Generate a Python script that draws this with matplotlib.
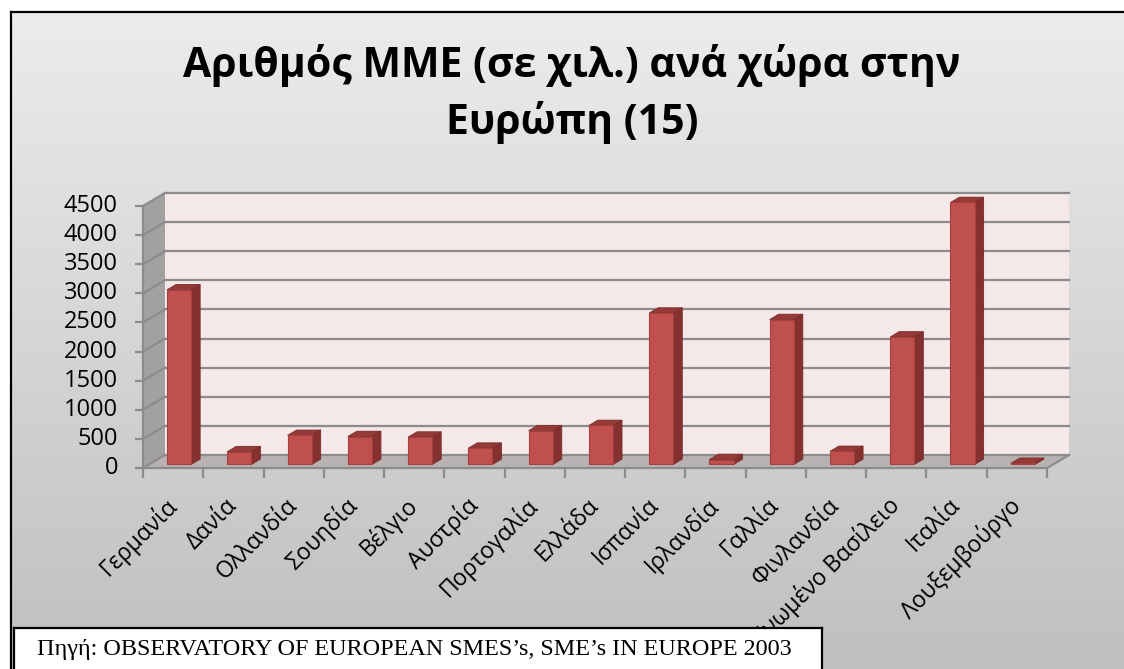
import numpy as np
import matplotlib
matplotlib.use('Agg')
import matplotlib.pyplot as plt
from matplotlib.patches import Polygon
from matplotlib.transforms import offset_copy

# Data (thousands of SMEs per country)
countries = ['Γερμανία', 'Δανία', 'Ολλανδία', 'Σουηδία', 'Βέλγιο', 'Αυστρία',
             'Πορτογαλία', 'Ελλάδα', 'Ισπανία', 'Ιρλανδία', 'Γαλλία', 'Φινλανδία',
             'Ηνωμένο Βασίλειο', 'Ιταλία', 'Λουξεμβούργο']
smes = [3000, 220, 500, 480, 470, 280, 580, 670, 2600, 85, 2490, 225, 2190, 4500, 20]
y_ticks = [0, 500, 1000, 1500, 2000, 2500, 3000, 3500, 4000, 4500]

title_text = 'Αριθμός ΜΜΕ (σε χιλ.) ανά χώρα στην\nΕυρώπη (15)'
source_text = 'Πηγή: OBSERVATORY OF EUROPEAN SMES’s, SME’s IN EUROPE 2003'

W, H = 1124, 669
fig = plt.figure(figsize=(W / 100, H / 100), dpi=100)
fig.patch.set_facecolor('white')

def px_axes(x0, y0, x1, y1):
    return fig.add_axes([x0 / W, 1 - y1 / H, (x1 - x0) / W, (y1 - y0) / H])

# gradient background of the chart area
bg = px_axes(11, 12, W, H)
grad = np.linspace(0.925, 0.75, 256).reshape(-1, 1)
bg.imshow(np.dstack([grad, grad, grad]), aspect='auto', extent=[0, 1, 0, 1],
          interpolation='bilinear')
bg.set_xlim(0, 1)
bg.set_ylim(0, 1)
bg.axis('off')
fig.add_artist(plt.Line2D([10.5 / W, 10.5 / W], [0, 1 - 11.5 / H], color='black', lw=1.6))
fig.add_artist(plt.Line2D([10.5 / W, 1.01], [1 - 11.5 / H, 1 - 11.5 / H], color='black', lw=1.6))

# title
fig.text(572 / W, 1 - 94 / H, title_text, ha='center', va='center',
         fontsize=29.5, fontweight='bold', family=['Open Sans', 'DejaVu Sans'],
         linespacing=1.45)

# main 3D-looking chart, front plane
ax = px_axes(143, 206, 1047, 468)
n = len(countries)
ymax = 4500
ax.set_xlim(0, n)
ax.set_ylim(0, ymax)
ax.axis('off')
ax.set_zorder(2)

ddx = 22 / 904 * n      # depth offset in data units
ddy = 13 / 262 * ymax

def P(x, y, t):
    return (x + t * ddx, y + t * ddy)

grid_c = '#8c8c8c'

# back wall
ax.add_patch(Polygon([P(0, 0, 1), P(n, 0, 1), P(n, ymax, 1), P(0, ymax, 1)],
                     closed=True, facecolor='#f4e8e8', edgecolor='none', clip_on=False, zorder=1))
# left wall
ax.add_patch(Polygon([P(0, 0, 0), P(0, 0, 1), P(0, ymax, 1), P(0, ymax, 0)],
                     closed=True, facecolor='#a3a0a0', edgecolor='none', clip_on=False, zorder=1))
# floor
ax.add_patch(Polygon([P(0, 0, 0), P(n, 0, 0), P(n, 0, 1), P(0, 0, 1)],
                     closed=True, facecolor='#b9b2b2', edgecolor='none', clip_on=False, zorder=1))

for v in y_ticks:
    a, b = P(0, v, 1), P(n, v, 1)
    ax.plot([a[0], b[0]], [a[1], b[1]], color=grid_c, lw=1.6, clip_on=False, zorder=2)
    c = P(0, v, 0)
    ax.plot([c[0], a[0]], [c[1], a[1]], color=grid_c, lw=1.6, clip_on=False, zorder=2)

# axes lines
ax.plot([0, 0], [0, ymax], color=grid_c, lw=1.6, clip_on=False, zorder=3)
a = P(n, 0, 1)
ax.plot([0, n, a[0]], [0, 0, a[1]], color=grid_c, lw=1.6, clip_on=False, zorder=3)
for v in y_ticks:
    ax.plot([0], [v], marker=0, markersize=6, color=grid_c, mew=1.6, clip_on=False, zorder=3)
    ax.text(0, v, str(v), transform=offset_copy(ax.transData, fig, x=-25, y=0, units='dots'),
            ha='right', va='center', fontsize=17, family=['Open Sans', 'DejaVu Sans'])
for i in range(n + 1):
    ax.plot([i], [0], marker=3, markersize=7, color=grid_c, mew=1.6, clip_on=False, zorder=3)

# bars
t0, t1 = 0.27, 0.68
for i, v in enumerate(smes):
    x0, x1 = i + 0.3, i + 0.7
    side = [P(x1, 0, t0), P(x1, 0, t1), P(x1, v, t1), P(x1, v, t0)]
    top = [P(x0, v, t0), P(x1, v, t0), P(x1, v, t1), P(x0, v, t1)]
    front = [P(x0, 0, t0), P(x1, 0, t0), P(x1, v, t0), P(x0, v, t0)]
    ax.add_patch(Polygon(side, closed=True, facecolor='#85312f', edgecolor='#7a2c2a',
                         lw=0.6, clip_on=False, zorder=4))
    ax.add_patch(Polygon(top, closed=True, facecolor='#953a37', edgecolor='#7a2c2a',
                         lw=0.6, clip_on=False, zorder=4))
    ax.add_patch(Polygon(front, closed=True, facecolor='#c0504d', edgecolor='#a3403d',
                         lw=0.8, clip_on=False, zorder=5))

# category labels
for i, name in enumerate(countries):
    ax.text(i + 0.5, 0, name, transform=offset_copy(ax.transData, fig, x=0, y=-34, units='dots'),
            rotation=45, rotation_mode='anchor', ha='right', va='center',
            fontsize=16.5, family=['Open Sans', 'DejaVu Sans'], zorder=3)

# source box
box = px_axes(14, 628, 822, H + 5)
box.set_xlim(0, 1)
box.set_ylim(0, 1)
box.set_zorder(10)
box.set_facecolor('white')
for s in box.spines.values():
    s.set_color('black')
    s.set_linewidth(1.6)
box.set_xticks([])
box.set_yticks([])
fig.text(37 / W, 1 - 649 / H, source_text, ha='left', va='center', fontsize=17.4,
         family=['Liberation Serif', 'DejaVu Serif'], zorder=11)

fig.savefig('out.png', dpi=100)
